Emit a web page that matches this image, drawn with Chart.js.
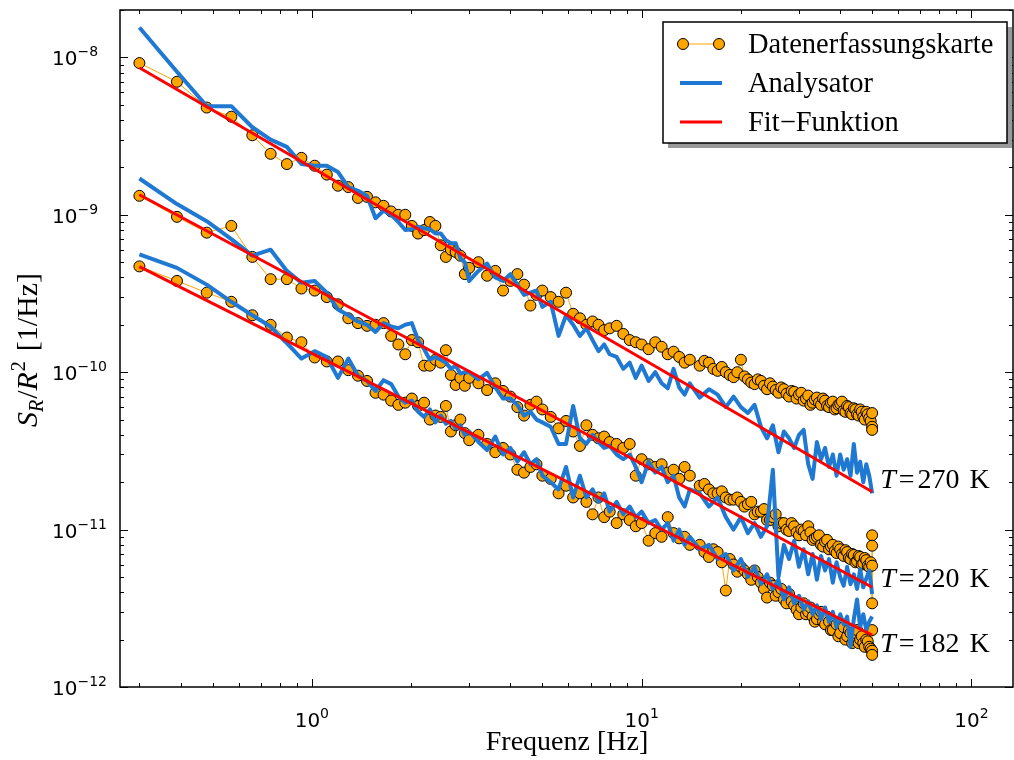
<!DOCTYPE html>
<html>
<head>
<meta charset="utf-8">
<script src="https://cdn.jsdelivr.net/npm/chart.js@4"></script>
<style>body{margin:0;background:#fff}</style>
</head>
<body>
<canvas id="myChart" width="1014" height="760"></canvas>
<script>
// frequencies in Hz (shared grid of the three measurements)
const freq = [
    0.3, 0.39, 0.48, 0.57, 0.66, 0.75, 0.84, 0.93, 1.02, 1.11,
    1.2, 1.29, 1.38, 1.47, 1.56, 1.65, 1.74, 1.83, 1.92, 2.01,
    2.1, 2.19, 2.28, 2.37, 2.46, 2.55, 2.64, 2.73, 2.82, 2.91,
    3.0, 3.2, 3.4, 3.6, 3.8, 4.0, 4.2, 4.4, 4.6, 4.8,
    5.0, 5.3, 5.6, 5.9, 6.2, 6.5, 6.8, 7.1, 7.4, 7.7,
    8.0, 8.4, 8.8, 9.2, 9.6, 10, 10.5, 11, 11.5, 12,
    12.5, 13, 13.5, 14, 15, 16, 17, 18, 19, 20,
    21, 22, 23, 24, 25, 26, 27, 28, 29, 30,
    31, 32, 33, 34, 35, 36, 37, 38, 39, 40,
    41, 42, 43, 44, 45, 46, 47, 48, 49, 50
];
// extra card readings in between (half Hz)
const freqExtra = [
    15.5, 16.5, 17.5, 18.5, 19.5, 20.5, 21.5, 22.5, 23.5, 24.5,
    25.5, 26.5, 27.5, 28.5, 29.5, 30.5, 31.5, 32.5, 33.5, 34.5,
    35.5, 36.5, 37.5, 38.5, 39.5, 40.5, 41.5, 42.5, 43.5, 44.5,
    45.5, 46.5, 47.5, 48.5, 49.5
];

// T = 270 K
const daq270 = [
    9.2e-9, 7.0e-9, 4.8e-9, 4.2e-9, 3.2e-9, 2.44e-9, 2.1e-9, 2.3e-9, 2.05e-9, 1.8e-9,
    1.53e-9, 1.5e-9, 1.28e-9, 1.3e-9, 1.2e-9, 1.14e-9, 1.05e-9, 1.0e-9, 1.0e-9, 8.5e-10,
    7.6e-10, 8.0e-10, 9.0e-10, 8.5e-10, 6.4e-10, 5.4e-10, 6.0e-10, 5.8e-10, 5.5e-10, 4.2e-10,
    4.6e-10, 5.0e-10, 4.1e-10, 4.4e-10, 3.3e-10, 3.8e-10, 4.2e-10, 3.6e-10, 2.65e-10, 3.1e-10,
    3.3e-10, 3.0e-10, 2.8e-10, 3.2e-10, 2.35e-10, 2.2e-10, 2.0e-10, 2.1e-10, 2.0e-10, 1.85e-10,
    1.9e-10, 1.97e-10, 1.75e-10, 1.6e-10, 1.55e-10, 1.5e-10, 1.4e-10, 1.55e-10, 1.45e-10, 1.3e-10,
    1.35e-10, 1.25e-10, 1.15e-10, 1.2e-10, 1.1e-10, 1.15e-10, 1.02e-10, 1.0e-10, 9.3e-11, 1.2e-10,
    9.0e-11, 8.4e-11, 8.8e-11, 7.8e-11, 8.1e-11, 7.4e-11, 7.8e-11, 7.0e-11, 7.5e-11, 7.2e-11,
    6.6e-11, 7.1e-11, 6.4e-11, 6.9e-11, 6.2e-11, 6.6e-11, 6.0e-11, 6.5e-11, 5.9e-11, 6.3e-11,
    5.7e-11, 6.1e-11, 5.5e-11, 5.9e-11, 5.4e-11, 5.8e-11, 5.2e-11, 5.6e-11, 5.1e-11, 4.5e-11
];
const daq270Extra = [
    1.18e-10, 1.05e-10, 1.08e-10, 9.6e-11, 1.0e-10, 9.4e-11, 8.6e-11, 9.0e-11, 8.2e-11, 8.5e-11,
    7.7e-11, 8.0e-11, 7.3e-11, 7.6e-11, 6.8e-11, 7.4e-11, 6.8e-11, 6.2e-11, 6.7e-11, 6.4e-11,
    6.8e-11, 6.1e-11, 6.4e-11, 5.8e-11, 6.2e-11, 6.5e-11, 5.6e-11, 6.0e-11, 5.4e-11, 5.8e-11,
    5.3e-11, 5.6e-11, 5.0e-11, 5.4e-11, 4.9e-11
];
const ana270 = [
    1.55e-8, 8.1e-9, 4.9e-9, 4.9e-9, 3.6e-9, 3.0e-9, 2.7e-9, 2.1e-9, 2.05e-9, 2.05e-9,
    1.87e-9, 1.5e-9, 1.42e-9, 1.32e-9, 9.5e-10, 1.06e-9, 1.0e-9, 9.0e-10, 8.0e-10, 8.1e-10,
    8.4e-10, 8.2e-10, 8.1e-10, 7.6e-10, 7.6e-10, 6.9e-10, 6.6e-10, 6.6e-10, 5.3e-10, 5.0e-10,
    3.8e-10, 4.4e-10, 4.9e-10, 4.0e-10, 3.8e-10, 4.2e-10, 3.6e-10, 3.1e-10, 3.2e-10, 3.3e-10,
    2.6e-10, 2.8e-10, 1.7e-10, 2.3e-10, 2.0e-10, 1.7e-10, 1.9e-10, 1.6e-10, 1.36e-10, 1.5e-10,
    1.3e-10, 1.25e-10, 1.05e-10, 1.15e-10, 9.2e-11, 1.1e-10, 8.8e-11, 1.0e-10, 8.5e-11, 7.9e-11,
    1.05e-10, 8.0e-11, 7.2e-11, 8.5e-11, 6.9e-11, 7.8e-11, 7.2e-11, 6.0e-11, 7.0e-11, 6.0e-11,
    5.5e-11, 6.2e-11, 4.5e-11, 3.8e-11, 4.6e-11, 3.1e-11, 4.2e-11, 3.8e-11, 3.3e-11, 4.0e-11,
    4.3e-11, 2.6e-11, 2.1e-11, 3.6e-11, 2.8e-11, 3.3e-11, 2.5e-11, 3.0e-11, 2.2e-11, 3.0e-11,
    2.4e-11, 2.8e-11, 2.2e-11, 3.5e-11, 2.3e-11, 2.7e-11, 2.0e-11, 2.6e-11, 2.2e-11, 1.7e-11
];

// T = 220 K
const daq220 = [
    1.32e-9, 9.7e-10, 7.7e-10, 8.5e-10, 5.4e-10, 3.9e-10, 3.9e-10, 3.4e-10, 3.3e-10, 3.0e-10,
    2.7e-10, 2.2e-10, 2.05e-10, 1.97e-10, 2.0e-10, 2.05e-10, 1.7e-10, 1.5e-10, 1.3e-10, 1.6e-10,
    1.55e-10, 1.1e-10, 1.1e-10, 1.2e-10, 1.15e-10, 1.38e-10, 9.6e-11, 8.3e-11, 9.2e-11, 8.2e-11,
    9.2e-11, 8.5e-11, 7.7e-11, 8.5e-11, 7.6e-11, 7.0e-11, 6.0e-11, 5.3e-11, 6.2e-11, 6.5e-11,
    5.8e-11, 5.2e-11, 4.4e-11, 4.9e-11, 4.2e-11, 3.4e-11, 4.6e-11, 4.0e-11, 3.8e-11, 3.9e-11,
    3.6e-11, 3.5e-11, 3.3e-11, 3.5e-11, 2.2e-11, 2.8e-11, 2.6e-11, 2.5e-11, 2.6e-11, 2.3e-11,
    2.4e-11, 2.1e-11, 2.5e-11, 2.2e-11, 1.9e-11, 1.8e-11, 1.7e-11, 1.6e-11, 1.55e-11, 1.5e-11,
    1.45e-11, 1.25e-11, 1.3e-11, 1.15e-11, 1.2e-11, 1.05e-11, 1.1e-11, 9.8e-12, 1.05e-11, 9.2e-12,
    9.8e-12, 1.05e-11, 8.6e-12, 9.0e-12, 8.0e-12, 8.4e-12, 7.5e-12, 8.0e-12, 7.1e-12, 7.5e-12,
    6.8e-12, 7.2e-12, 6.5e-12, 6.9e-12, 6.3e-12, 6.7e-12, 6.1e-12, 6.4e-12, 5.8e-12, 5.9e-12
];
const daq220Extra = [
    1.95e-11, 1.7e-11, 1.75e-11, 1.55e-11, 1.6e-11, 1.4e-11, 1.5e-11, 1.3e-11, 1.35e-11, 1.15e-11,
    1.25e-11, 1.1e-11, 1.0e-11, 1.1e-11, 9.6e-12, 1.0e-11, 9.2e-12, 9.6e-12, 8.8e-12, 9.2e-12,
    7.8e-12, 8.6e-12, 7.8e-12, 7.3e-12, 7.8e-12, 7.0e-12, 7.4e-12, 6.6e-12, 7.0e-12, 6.2e-12,
    6.8e-12, 6.0e-12, 6.6e-12, 5.9e-12, 6.2e-12
];
const ana220 = [
    1.7e-9, 1.17e-9, 9.1e-10, 7.0e-10, 5.5e-10, 6.0e-10, 4.4e-10, 3.7e-10, 3.8e-10, 3.2e-10,
    2.5e-10, 2.3e-10, 2.1e-10, 2.0e-10, 1.8e-10, 2.05e-10, 1.95e-10, 1.9e-10, 2.0e-10, 2.05e-10,
    1.6e-10, 1.4e-10, 1.2e-10, 1.25e-10, 1.2e-10, 1.15e-10, 1.05e-10, 1.1e-10, 9.8e-11, 1.0e-10,
    1.0e-10, 9.0e-11, 9.9e-11, 8.0e-11, 6.8e-11, 6.8e-11, 6.2e-11, 5.3e-11, 5.6e-11, 5.0e-11,
    4.8e-11, 4.5e-11, 3.5e-11, 3.5e-11, 6.1e-11, 3.8e-11, 3.5e-11, 4.0e-11, 3.6e-11, 3.3e-11,
    3.4e-11, 3.0e-11, 2.8e-11, 3.0e-11, 2.5e-11, 2.0e-11, 2.7e-11, 2.3e-11, 2.5e-11, 2.0e-11,
    2.2e-11, 1.6e-11, 1.4e-11, 1.8e-11, 1.7e-11, 1.4e-11, 1.6e-11, 1.2e-11, 1.0e-11, 1.2e-11,
    9.5e-12, 1.1e-11, 9.0e-12, 1.05e-11, 2.4e-11, 5.0e-12, 8.0e-12, 6.5e-12, 8.5e-12, 5.8e-12,
    7.5e-12, 5.2e-12, 7.0e-12, 4.8e-12, 6.8e-12, 5.5e-12, 6.5e-12, 4.6e-12, 6.2e-12, 5.0e-12,
    4.4e-12, 5.8e-12, 4.5e-12, 5.2e-12, 4.2e-12, 5.6e-12, 4.3e-12, 4.9e-12, 5.5e-12, 3.9e-12
];

// T = 182 K
const daq182 = [
    4.7e-10, 3.8e-10, 3.2e-10, 2.8e-10, 2.3e-10, 2.0e-10, 1.66e-10, 1.55e-10, 1.24e-10, 1.17e-10,
    1.17e-10, 1.03e-10, 9.5e-11, 8.8e-11, 7.4e-11, 7.2e-11, 6.6e-11, 6.2e-11, 6.4e-11, 6.8e-11,
    6.1e-11, 6.4e-11, 5.0e-11, 5.3e-11, 5.2e-11, 6.1e-11, 4.2e-11, 4.6e-11, 5.0e-11, 4.1e-11,
    3.7e-11, 4.0e-11, 3.5e-11, 3.1e-11, 3.3e-11, 3.0e-11, 2.4e-11, 2.3e-11, 2.5e-11, 2.6e-11,
    2.2e-11, 2.1e-11, 1.7e-11, 1.9e-11, 1.6e-11, 1.7e-11, 1.5e-11, 1.25e-11, 1.6e-11, 1.2e-11,
    1.3e-11, 1.1e-11, 1.25e-11, 1.15e-11, 1.05e-11, 1.1e-11, 8.5e-12, 9.5e-12, 9.0e-12, 1.2e-11,
    9.5e-12, 8.8e-12, 9.0e-12, 8.0e-12, 8.0e-12, 6.7e-12, 7.2e-12, 4.1e-12, 6.0e-12, 5.8e-12,
    5.2e-12, 5.5e-12, 4.6e-12, 3.7e-12, 4.4e-12, 4.0e-12, 3.6e-12, 3.9e-12, 3.3e-12, 2.9e-12,
    3.4e-12, 3.0e-12, 2.8e-12, 2.7e-12, 3.0e-12, 2.5e-12, 2.6e-12, 2.3e-12, 2.5e-12, 2.2e-12,
    2.4e-12, 2.1e-12, 2.2e-12, 2.0e-12, 2.3e-12, 2.0e-12, 1.9e-12, 2.0e-12, 1.8e-12, 1.7e-12
];
const daq182Extra = [
    7.2e-12, 7.5e-12, 6.2e-12, 6.5e-12, 5.4e-12, 5.5e-12, 4.8e-12, 5.0e-12, 4.2e-12, 4.6e-12,
    3.8e-12, 4.2e-12, 3.4e-12, 3.5e-12, 3.1e-12, 3.2e-12, 2.9e-12, 3.2e-12, 2.6e-12, 2.9e-12,
    2.6e-12, 2.8e-12, 2.3e-12, 2.6e-12, 2.1e-12, 2.5e-12, 2.0e-12, 2.3e-12, 1.9e-12, 2.2e-12,
    1.9e-12, 2.1e-12, 1.8e-12, 1.95e-12, 1.75e-12
];
const ana182 = [
    5.6e-10, 4.6e-10, 3.6e-10, 2.8e-10, 2.3e-10, 1.95e-10, 1.53e-10, 1.22e-10, 1.36e-10, 1.25e-10,
    9.2e-11, 1.22e-10, 9.5e-11, 8.8e-11, 7.6e-11, 8.9e-11, 8.4e-11, 7.0e-11, 6.4e-11, 6.6e-11,
    5.6e-11, 5.2e-11, 5.8e-11, 4.8e-11, 5.3e-11, 4.7e-11, 4.9e-11, 4.4e-11, 4.6e-11, 4.0e-11,
    4.2e-11, 3.6e-11, 3.2e-11, 3.9e-11, 3.0e-11, 3.3e-11, 2.7e-11, 3.1e-11, 2.6e-11, 2.8e-11,
    2.2e-11, 2.0e-11, 1.8e-11, 2.5e-11, 1.6e-11, 2.2e-11, 1.6e-11, 1.8e-11, 1.5e-11, 1.7e-11,
    1.3e-11, 1.5e-11, 1.25e-11, 1.4e-11, 1.2e-11, 1.3e-11, 1.1e-11, 1.15e-11, 1.0e-11, 1.1e-11,
    8.5e-12, 1.0e-11, 8.0e-12, 9.0e-12, 7.5e-12, 8.0e-12, 6.5e-12, 7.0e-12, 5.5e-12, 6.5e-12,
    5.0e-12, 5.8e-12, 4.5e-12, 5.2e-12, 4.2e-12, 4.8e-12, 3.6e-12, 4.3e-12, 3.4e-12, 3.8e-12,
    3.1e-12, 3.5e-12, 2.9e-12, 3.3e-12, 2.7e-12, 3.2e-12, 2.6e-12, 3.0e-12, 2.4e-12, 2.9e-12,
    2.5e-12, 2.8e-12, 1.8e-12, 2.7e-12, 3.6e-12, 2.4e-12, 2.9e-12, 2.3e-12, 2.6e-12, 2.8e-12
];

// repeated readings at the last frequency (50 Hz)
const tail270 = [5.5e-11, 4.3e-11];
const tail220 = [9.2e-12, 7.9e-12, 3.4e-12];
const tail182 = [2.3e-12, 1.6e-12];

// power-law fits, drawn between first and last frequency
const fitFreq = [0.3, 50];
const fit270 = [8.6e-9, 1.74e-11];
const fit220 = [1.34e-9, 4.3e-12];
const fit182 = [4.69e-10, 2.14e-12];

const tempLabels = ['270', '220', '182'];
const xTickExp = [0, 1, 2];
const yTickExp = [-12, -11, -10, -9, -8];
const legendLabels = ['Datenerfassungskarte', 'Analysator', 'Fit\u2212Funktion'];

const orange = '#FFA500', blue = '#1F78D2', red = '#FF0000';
const serif = '"Liberation Serif", "DejaVu Serif", serif';
const sans = '"DejaVu Sans", sans-serif';

function pts(xs, ys) {
    return ys.map((v, i) => ({ x: xs[i], y: v }));
}
function daqPoints(vals, extra, tail) {
    const all = pts(freq, vals).concat(pts(freqExtra, extra));
    all.sort((p, q) => p.x - q.x);
    return all.concat(tail.map(v => ({ x: 50, y: v })));
}
function daqSet(data) {
    return { data, borderColor: orange, borderWidth: 1, pointRadius: 5.5, pointBackgroundColor: orange,
        pointBorderColor: '#000', pointBorderWidth: 1, tension: 0 };
}
function anaSet(data) {
    return { data, borderColor: blue, borderWidth: 4, pointRadius: 0, borderJoinStyle: 'round', tension: 0 };
}
function fitSet(data) {
    return { data, borderColor: red, borderWidth: 3, pointRadius: 0 };
}

// bottom to top, one temperature after the other
const layers = [
    daqSet(daqPoints(daq270, daq270Extra, tail270)), anaSet(pts(freq, ana270)), fitSet(pts(fitFreq, fit270)),
    daqSet(daqPoints(daq220, daq220Extra, tail220)), anaSet(pts(freq, ana220)), fitSet(pts(fitFreq, fit220)),
    daqSet(daqPoints(daq182, daq182Extra, tail182)), anaSet(pts(freq, ana182)), fitSet(pts(fitFreq, fit182))
];
layers.forEach((d, i) => { d.order = layers.length - i; });

function drawParts(c, parts, x, y) {
    let cx = x;
    parts.forEach(p => {
        c.font = p.f;
        c.fillText(p.t, cx, y + (p.dy || 0));
        cx += c.measureText(p.t).width + (p.sp || 0);
    });
    return cx - x;
}
function partsWidth(c, parts) {
    let w = 0;
    parts.forEach(p => { c.font = p.f; w += c.measureText(p.t).width + (p.sp || 0); });
    return w;
}
function powParts(e) {
    return [{ t: '10', f: '20px ' + sans }, { t: String(e).replace('-', '\u2212'), f: '14px ' + sans, dy: -9 }];
}

const decor = {
    id: 'decor',
    afterDraw(chart) {
        const c = chart.ctx, a = chart.chartArea, xs = chart.scales.x, ys = chart.scales.y;
        c.save();
        c.fillStyle = '#000';
        c.strokeStyle = '#000';

        // frame
        c.lineWidth = 1.5;
        c.strokeRect(a.left, a.top, a.right - a.left, a.bottom - a.top);

        // inward ticks on all four sides
        c.lineWidth = 1;
        c.beginPath();
        for (let e = -1; e <= 2; e++) {
            for (let m = 1; m <= 9; m++) {
                const v = m * Math.pow(10, e);
                if (v < xs.min || v > xs.max) continue;
                const px = Math.round(xs.getPixelForValue(v)) + 0.5, len = m === 1 ? 8 : 4;
                c.moveTo(px, a.bottom); c.lineTo(px, a.bottom - len);
                c.moveTo(px, a.top); c.lineTo(px, a.top + len);
            }
        }
        for (let e = -12; e <= -8; e++) {
            for (let m = 1; m <= 9; m++) {
                const v = m * Math.pow(10, e);
                if (v < ys.min * 0.999 || v > ys.max) continue;
                const py = Math.round(ys.getPixelForValue(v)) + 0.5, len = m === 1 ? 8 : 4;
                c.moveTo(a.left, py); c.lineTo(a.left + len, py);
                c.moveTo(a.right, py); c.lineTo(a.right - len, py);
            }
        }
        c.stroke();

        // tick labels
        c.textBaseline = 'alphabetic';
        c.textAlign = 'left';
        xTickExp.forEach(e => {
            const p = powParts(e), w = partsWidth(c, p);
            drawParts(c, p, xs.getPixelForValue(Math.pow(10, e)) - w / 2, 727);
        });
        yTickExp.forEach(e => {
            drawParts(c, powParts(e), 52, ys.getPixelForValue(Math.pow(10, e)) + 8);
        });

        // axis titles
        c.font = '28px ' + serif;
        c.textAlign = 'center';
        c.fillText('Frequenz [Hz]', 567, 750);
        c.textAlign = 'left';
        const yt = [
            { t: 'S', f: 'italic 30px ' + serif },
            { t: 'R', f: 'italic 20px ' + serif, dy: 6, sp: 1 },
            { t: '/', f: '30px ' + serif },
            { t: 'R', f: 'italic 30px ' + serif, sp: 1 },
            { t: '2', f: '20px ' + serif, dy: -12, sp: 10 },
            { t: '[1/Hz]', f: '30px ' + serif }
        ];
        const yw = partsWidth(c, yt);
        c.save();
        c.translate(37, 350);
        c.rotate(-Math.PI / 2);
        drawParts(c, yt, -yw / 2, 0);
        c.restore();

        // temperature labels at the end of the fits
        const fitEnds = [fit270[1], fit220[1], fit182[1]];
        const shift = [-13, -9, 8];
        tempLabels.forEach((t, i) => {
            const x = xs.getPixelForValue(fitFreq[1]) + 8;
            const y = ys.getPixelForValue(fitEnds[i]) + shift[i] + 9;
            drawParts(c, [
                { t: 'T', f: 'italic 28px ' + serif, sp: 3 },
                { t: '=', f: '28px ' + serif, sp: 3 },
                { t: t, f: '28px ' + serif, sp: 10 },
                { t: 'K', f: '28px ' + serif }
            ], x, y);
        });

        // legend box with shadow
        const bx = 663, by = 22, bw = 344, bh = 121;
        c.fillStyle = '#999';
        c.fillRect(bx + 5, by + 5, bw, bh);
        c.fillStyle = '#fff';
        c.fillRect(bx, by, bw, bh);
        c.lineWidth = 1.5;
        c.strokeRect(bx, by, bw, bh);
        const rows = [44, 83, 122];
        c.lineCap = 'butt';
        // orange sample
        c.strokeStyle = orange; c.lineWidth = 1;
        c.beginPath(); c.moveTo(683, rows[0]); c.lineTo(719, rows[0]); c.stroke();
        [683, 719].forEach(px => {
            c.beginPath(); c.arc(px, rows[0], 5.5, 0, Math.PI * 2);
            c.fillStyle = orange; c.fill();
            c.strokeStyle = '#000'; c.stroke();
        });
        c.strokeStyle = blue; c.lineWidth = 4;
        c.beginPath(); c.moveTo(680, rows[1]); c.lineTo(722, rows[1]); c.stroke();
        c.strokeStyle = red; c.lineWidth = 3;
        c.beginPath(); c.moveTo(680, rows[2]); c.lineTo(722, rows[2]); c.stroke();
        c.fillStyle = '#000';
        c.font = '28.5px ' + serif;
        legendLabels.forEach((t, i) => c.fillText(t, 748, rows[i] + 9));
        c.restore();
    }
};

const ctx = document.getElementById('myChart');

var myChart = new Chart(ctx, {
    type: 'line',
    data: { datasets: layers },
    options: {
        responsive: false,
        animation: false,
        devicePixelRatio: 1,
        layout: { autoPadding: false, padding: { top: 10, right: 1, left: 0, bottom: 0 } },
        plugins: { legend: { display: false }, tooltip: { enabled: false } },
        scales: {
            x: {
                type: 'logarithmic', min: 0.262, max: 133.7,
                grid: { display: false }, border: { display: false }, ticks: { display: false },
                afterFit(s) { s.height = 73; s.paddingLeft = 0; s.paddingRight = 0; }
            },
            y: {
                type: 'logarithmic', min: 1e-12, max: 2e-8,
                grid: { display: false }, border: { display: false }, ticks: { display: false },
                afterFit(s) { s.width = 120; s.paddingTop = 0; s.paddingBottom = 0; }
            }
        }
    },
    plugins: [decor]
});
</script>
</body>
</html>
